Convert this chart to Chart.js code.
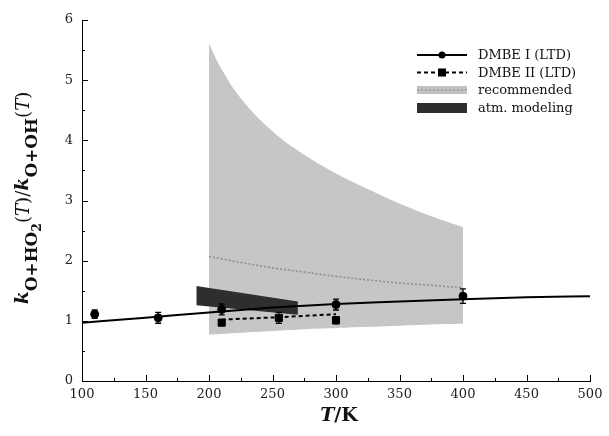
<!DOCTYPE html>
<html>
<head>
<meta charset="utf-8">
<script src="https://cdn.jsdelivr.net/npm/chart.js@4.4.1/dist/chart.umd.min.js"></script>
<style>
  html, body { margin: 0; padding: 0; background: #fff; }
  canvas { display: block; }
</style>
</head>
<body>
<canvas id="ratioChart" width="609" height="436"></canvas>
<script>
// DMBE I (LTD) - smooth curve and points with error bars
const dmbe1CurveT = [100, 150, 200, 250, 300, 350, 400, 450, 500];
const dmbe1CurveK = [0.97, 1.05, 1.14, 1.22, 1.28, 1.32, 1.36, 1.39, 1.41];
const dmbe1PointT = [110, 160, 210, 300, 400];
const dmbe1PointK = [1.11, 1.05, 1.19, 1.27, 1.41];
const dmbe1PointErr = [0.07, 0.09, 0.09, 0.09, 0.12];

// DMBE II (LTD)
const dmbe2LineT = [210, 255, 300];
const dmbe2LineK = [1.02, 1.06, 1.11];
const dmbe2PointT = [210, 255, 300];
const dmbe2PointK = [0.97, 1.05, 1.01];
const dmbe2PointErr = [0.05, 0.09, 0.06];

// recommended band
const recT = [200, 210, 225, 250, 275, 300, 325, 350, 375, 400];
const recHigh = [5.6, 5.18, 4.7, 4.15, 3.76, 3.45, 3.19, 2.95, 2.74, 2.56];
const recMid = [2.07, 2.03, 1.97, 1.88, 1.81, 1.74, 1.68, 1.63, 1.59, 1.55];
const recLow = [0.77, 0.78, 0.8, 0.83, 0.86, 0.88, 0.9, 0.92, 0.94, 0.95];

// atm. modeling band
const atmT = [190, 270];
const atmHigh = [1.58, 1.32];
const atmLow = [1.26, 1.1];

// axes
const xTicks = [100, 150, 200, 250, 300, 350, 400, 450, 500];
const yTicks = [0, 1, 2, 3, 4, 5, 6];
const legendNames = ['DMBE I (LTD)', 'DMBE II (LTD)', 'recommended', 'atm. modeling'];

const pts = (xs, ys) => xs.map((x, i) => ({ x: x, y: ys[i] }));
const SERIF = '"DejaVu Serif", "Liberation Serif", serif';

const decor = {
  id: 'decor',
  afterDatasetsDraw(chart) {
    const ctx = chart.ctx, xs = chart.scales.x, ys = chart.scales.y;
    ctx.save();
    ctx.strokeStyle = '#000';
    ctx.lineWidth = 1.3;
    const bars = (T, K, E) => T.forEach((t, i) => {
      const px = xs.getPixelForValue(t);
      const top = ys.getPixelForValue(K[i] + E[i]);
      const bot = ys.getPixelForValue(K[i] - E[i]);
      ctx.beginPath();
      ctx.moveTo(px, top); ctx.lineTo(px, bot);
      ctx.moveTo(px - 3, top); ctx.lineTo(px + 3, top);
      ctx.moveTo(px - 3, bot); ctx.lineTo(px + 3, bot);
      ctx.stroke();
    });
    bars(dmbe1PointT, dmbe1PointK, dmbe1PointErr);
    bars(dmbe2PointT, dmbe2PointK, dmbe2PointErr);
    ctx.restore();
  },
  afterDraw(chart) {
    const ctx = chart.ctx, xs = chart.scales.x, ys = chart.scales.y;
    const area = chart.chartArea;
    ctx.save();
    // inward tick marks
    ctx.strokeStyle = '#000';
    ctx.lineWidth = 1;
    ctx.beginPath();
    for (let v = 100; v <= 500; v += 25) {
      const px = Math.round(xs.getPixelForValue(v)) + 0.5;
      const len = v % 50 === 0 ? 6 : 3;
      ctx.moveTo(px, area.bottom); ctx.lineTo(px, area.bottom - len);
    }
    for (let v = 0; v <= 6; v += 0.5) {
      const py = Math.round(ys.getPixelForValue(v)) + 0.5;
      const len = v % 1 === 0 ? 6 : 3;
      ctx.moveTo(area.left, py); ctx.lineTo(area.left + len, py);
    }
    ctx.stroke();

    // x title: T/K
    ctx.fillStyle = '#111';
    ctx.textBaseline = 'alphabetic';
    const f1 = 'italic bold 19px ' + SERIF, f2 = 'bold 19px ' + SERIF;
    ctx.font = f1; const wT = ctx.measureText('T').width;
    ctx.font = f2; const wK = ctx.measureText('/K').width;
    let sx = (area.left + area.right) / 2 + 3 - (wT + wK) / 2;
    ctx.font = f1; ctx.fillText('T', sx, 421);
    ctx.font = f2; ctx.fillText('/K', sx + wT, 421);

    // y title with subscripts, rotated; k fixed, the rest stretched toward ~237px
    const parts = [
      { t: 'k', st: 'italic bold ', s: 19, dy: 0, fix: true },
      { t: 'O+HO', st: 'bold ', s: 13, dy: 9 },
      { t: '2', st: 'bold ', s: 9.5, dy: 13 },
      { t: '(', st: '', s: 14, dy: 1 },
      { t: 'T', st: 'italic ', s: 14, dy: 1 },
      { t: ')/', st: '', s: 14, dy: 1 },
      { t: 'k', st: 'italic bold ', s: 19, dy: 0, fix: true },
      { t: 'O+OH', st: 'bold ', s: 13, dy: 9 },
      { t: '(', st: '', s: 14, dy: 1 },
      { t: 'T', st: 'italic ', s: 14, dy: 1 },
      { t: ')', st: '', s: 14, dy: 1 }
    ];
    let fixedW = 0, freeW = 0;
    parts.forEach(p => {
      ctx.font = p.st + p.s + 'px ' + SERIF;
      const w = ctx.measureText(p.t).width;
      if (p.fix) fixedW += w; else freeW += w;
    });
    const fit = Math.min(1.3, (237 - fixedW) / freeW);
    let total = 0;
    parts.forEach(p => {
      p.f = p.st + (p.fix ? p.s : (p.s * fit).toFixed(1)) + 'px ' + SERIF;
      ctx.font = p.f; p.w = ctx.measureText(p.t).width; total += p.w;
    });
    ctx.translate(28, 198);
    ctx.rotate(-Math.PI / 2);
    let cx = -total / 2;
    parts.forEach(p => {
      ctx.font = p.f;
      ctx.fillText(p.t, cx, p.dy);
      cx += p.w;
    });
    ctx.setTransform(1, 0, 0, 1, 0, 0);

    // legend
    const lx0 = 417, lx1 = 467, tx = 478;
    const rows = [55, 72.5, 90, 108];
    ctx.font = '13px ' + SERIF;
    ctx.textBaseline = 'middle';
    ctx.fillStyle = '#111';
    legendNames.forEach((n, i) => ctx.fillText(n, tx, rows[i] + 1));
    ctx.strokeStyle = '#000';
    ctx.lineWidth = 2;
    ctx.beginPath(); ctx.moveTo(lx0, rows[0]); ctx.lineTo(lx1, rows[0]); ctx.stroke();
    ctx.beginPath(); ctx.arc((lx0 + lx1) / 2, rows[0], 3.5, 0, Math.PI * 2); ctx.fillStyle = '#000'; ctx.fill();
    ctx.setLineDash([4, 3]);
    ctx.beginPath(); ctx.moveTo(lx0, rows[1]); ctx.lineTo(lx1, rows[1]); ctx.stroke();
    ctx.setLineDash([]);
    ctx.fillRect((lx0 + lx1) / 2 - 4, rows[1] - 4, 8, 8);
    ctx.fillStyle = '#c2c2c2';
    ctx.fillRect(lx0, rows[2] - 4, lx1 - lx0, 8);
    ctx.strokeStyle = '#9a9a9a'; ctx.lineWidth = 1.5; ctx.setLineDash([2, 2]);
    ctx.beginPath(); ctx.moveTo(lx0, rows[2]); ctx.lineTo(lx1, rows[2]); ctx.stroke();
    ctx.setLineDash([]);
    ctx.fillStyle = '#2e2e2e';
    ctx.fillRect(lx0, rows[3] - 5, lx1 - lx0, 10);
    ctx.restore();
  }
};

new Chart(document.getElementById('ratioChart').getContext('2d'), {
  type: 'scatter',
  data: {
    datasets: [
      {
        label: 'DMBE I (LTD)',
        data: pts(dmbe1CurveT, dmbe1CurveK),
        showLine: true,
        borderColor: '#000',
        borderWidth: 2,
        pointRadius: 0,
        cubicInterpolationMode: 'monotone',
        order: 0
      },
      {
        label: 'DMBE I points',
        data: pts(dmbe1PointT, dmbe1PointK),
        pointStyle: 'circle',
        pointRadius: 4,
        backgroundColor: '#000',
        borderColor: '#000',
        order: 0
      },
      {
        label: 'DMBE II (LTD)',
        data: pts(dmbe2LineT, dmbe2LineK),
        showLine: true,
        borderColor: '#000',
        borderWidth: 2,
        borderDash: [4, 3],
        pointRadius: 0,
        order: 0
      },
      {
        label: 'DMBE II points',
        data: pts(dmbe2PointT, dmbe2PointK),
        pointStyle: 'rect',
        pointRadius: 5,
        backgroundColor: '#000',
        borderColor: '#000',
        order: 0
      },
      {
        label: 'atm. modeling',
        data: pts(atmT, atmHigh),
        showLine: true,
        borderWidth: 0,
        pointRadius: 0,
        backgroundColor: '#2e2e2e',
        fill: '+1',
        order: 1
      },
      {
        label: 'atm low',
        data: pts(atmT, atmLow),
        showLine: true,
        borderWidth: 0,
        pointRadius: 0,
        order: 1
      },
      {
        label: 'recommended',
        data: pts(recT, recMid),
        showLine: true,
        borderColor: '#8c8c8c',
        borderWidth: 1.5,
        borderDash: [2, 2],
        pointRadius: 0,
        tension: 0.4,
        order: 2
      },
      {
        label: 'rec high',
        data: pts(recT, recHigh),
        showLine: true,
        borderWidth: 0,
        pointRadius: 0,
        backgroundColor: '#c6c6c6',
        tension: 0.4,
        fill: '+1',
        order: 3
      },
      {
        label: 'rec low',
        data: pts(recT, recLow),
        showLine: true,
        borderWidth: 0,
        pointRadius: 0,
        tension: 0.4,
        order: 3
      }
    ]
  },
  options: {
    responsive: false,
    animation: false,
    devicePixelRatio: 1,
    layout: { padding: { top: 20, right: 19, left: 0, bottom: 0 } },
    plugins: {
      legend: { display: false },
      tooltip: { enabled: false }
    },
    scales: {
      x: {
        type: 'linear',
        min: 100,
        max: 500,
        afterBuildTicks: s => { s.ticks = xTicks.map(v => ({ value: v })); },
        afterFit: s => { s.height = 55; },
        grid: { display: false, drawTicks: false },
        border: { display: true, color: '#000', width: 1 },
        ticks: { padding: 6, color: '#222', font: { family: SERIF, size: 13 }, maxRotation: 0 }
      },
      y: {
        type: 'linear',
        min: 0,
        max: 6,
        afterBuildTicks: s => { s.ticks = yTicks.map(v => ({ value: v })); },
        afterFit: s => { s.width = 82; },
        grid: { display: false, drawTicks: false },
        border: { display: true, color: '#000', width: 1 },
        ticks: { padding: 9, color: '#222', font: { family: SERIF, size: 13 } }
      }
    }
  },
  plugins: [decor]
});
</script>
</body>
</html>
